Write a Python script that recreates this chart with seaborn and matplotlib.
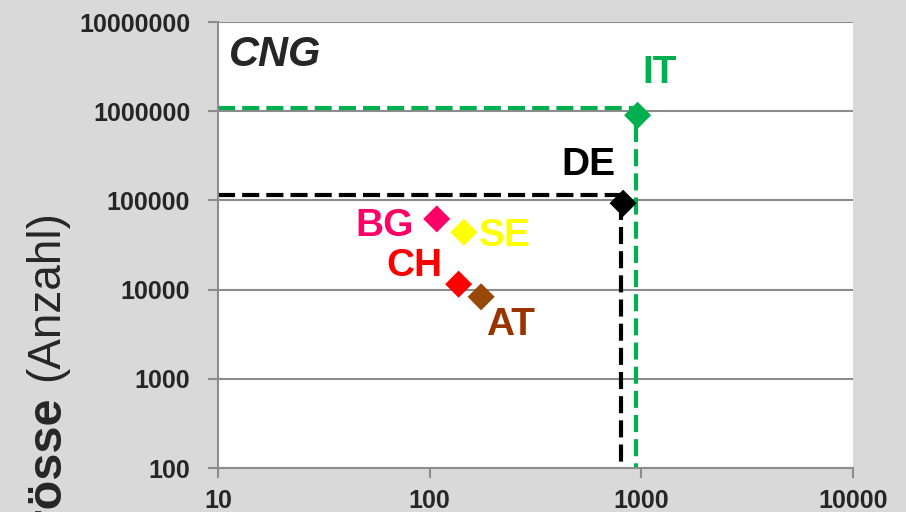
import matplotlib
matplotlib.use("Agg")
import matplotlib.pyplot as plt
import seaborn as sns
import pandas as pd
from matplotlib.ticker import FixedLocator, FixedFormatter, NullLocator

# ---- data ----
countries = ["IT", "DE", "BG", "SE", "CH", "AT"]
stations = [960, 820, 108, 145, 137, 175]          # x values
fleet = [900000, 93000, 62000, 44000, 11500, 8300]  # y values
colors = ["#00b050", "#000000", "#ff0066", "#ffff00", "#ff0000", "#984807"]
label_colors = ["#00b050", "#000000", "#ff0066", "#ffff00", "#ff0000", "#993300"]
label_offsets_px = [(22, -42), (-35, -38), (-52, 7), (41, 4), (-44, -18), (29, 28)]

# guide lines (dashed)
guide_black_x = [10, 800, 800]
guide_black_y = [115000, 115000, 100]
guide_green_x = [10, 945, 945]
guide_green_y = [1100000, 1100000, 100]

xticks = [10, 100, 1000, 10000]
xtick_labels = ["10", "100", "1000", "10000"]
yticks = [100, 1000, 10000, 100000, 1000000, 10000000]
ytick_labels = ["100", "1000", "10000", "100000", "1000000", "10000000"]

df = pd.DataFrame({"country": countries, "x": stations, "y": fleet})

sns.set_style("white")
plt.rcParams["font.family"] = ["Liberation Sans", "DejaVu Sans"]

W, H = 906, 512
fig = plt.figure(figsize=(W / 100, H / 100), dpi=100, facecolor="#d9d9d9")
ax = fig.add_axes([218 / W, 1 - 468 / H, (853 - 218) / W, (468 - 22) / H])
ax.set_facecolor("white")
ax.set_xscale("log")
ax.set_yscale("log")
ax.set_xlim(10, 10000)
ax.set_ylim(100, 10000000)

grid_c = "#8c8c8c"
for yv in yticks[1:]:
    ax.axhline(yv, color=grid_c, lw=1.5, zorder=1)

ax.plot(guide_black_x, guide_black_y, color="black", lw=3, ls=(0, (4.1, 1.7)), zorder=2)
ax.plot(guide_green_x, guide_green_y, color="#00b050", lw=3, ls=(0, (4.1, 1.7)), zorder=2)

sns.scatterplot(data=df, x="x", y="y", hue="country", palette=colors, marker="D",
                s=190, linewidth=0, legend=False, ax=ax, zorder=3)

for c, xv, yv, lc, (dx, dy) in zip(countries, stations, fleet, label_colors, label_offsets_px):
    ax.annotate(c, (xv, yv), xytext=(dx * 0.72, -dy * 0.72), textcoords="offset points",
                ha="center", va="center", fontsize=28, fontweight="bold", color=lc, zorder=4)

ax.text(0.018, 0.925, "CNG", transform=ax.transAxes, fontsize=30, fontweight="bold",
        fontstyle="italic", ha="left", va="center")

for side in ["top", "right"]:
    ax.spines[side].set_visible(False)
for side in ["left", "bottom"]:
    ax.spines[side].set_color(grid_c)
    ax.spines[side].set_linewidth(1.5)

ax.xaxis.set_major_locator(FixedLocator(xticks))
ax.xaxis.set_major_formatter(FixedFormatter(xtick_labels))
ax.yaxis.set_major_locator(FixedLocator(yticks))
ax.yaxis.set_major_formatter(FixedFormatter(ytick_labels))
ax.xaxis.set_minor_locator(NullLocator())
ax.yaxis.set_minor_locator(NullLocator())
ax.tick_params(axis="both", which="major", direction="out", length=7, width=1.5,
               color=grid_c, labelsize=18)
ax.tick_params(axis="x", pad=8, bottom=True)
ax.tick_params(axis="y", pad=13, left=True)
for lab in ax.get_xticklabels() + ax.get_yticklabels():
    lab.set_fontweight("bold")
ax.set_xlabel("")
ax.set_ylabel("")

# y-label (partially cut off, as in the reference)
t1 = fig.text(46 / W, 1 - 210 / H, "(Anzahl)", rotation=90, ha="center", va="top",
              fontsize=33)
fig.canvas.draw()
bb = t1.get_window_extent(renderer=fig.canvas.get_renderer())
t2 = fig.text(46 / W, (bb.y0 - 14) / H, "Flottengrösse", rotation=90, ha="center",
              va="top", fontsize=35, fontweight="bold")

fig.savefig("out.png", dpi=100, facecolor=fig.get_facecolor())
